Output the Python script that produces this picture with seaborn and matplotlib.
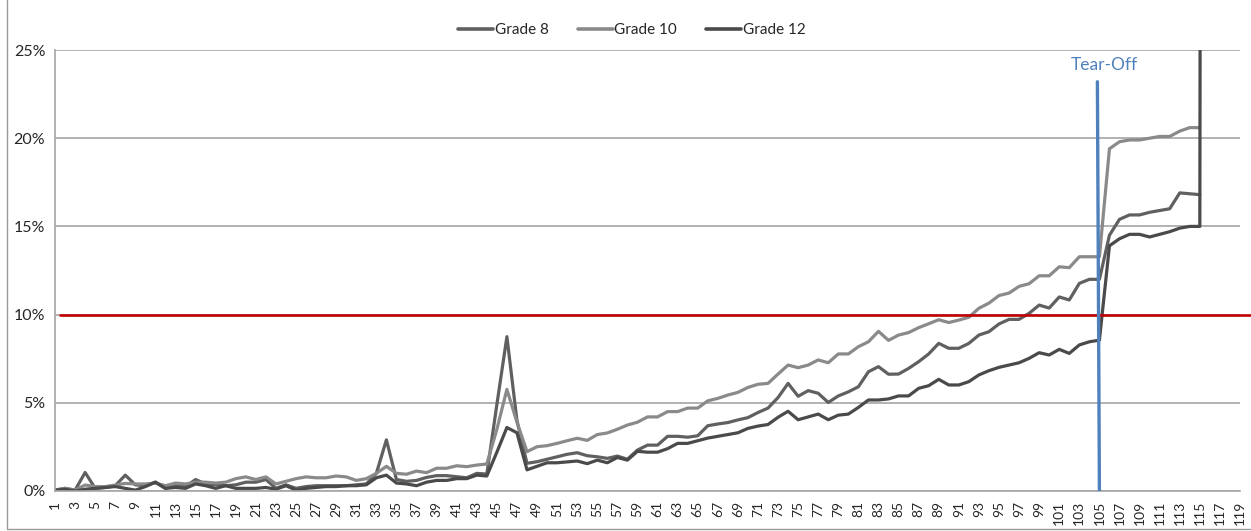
import numpy as np
import pandas as pd
import seaborn as sns
import matplotlib.pyplot as plt
from matplotlib.lines import Line2D

# percent of items, by item position
grade8 = [0.05, 0.15, 0.05, 1.05, 0.15, 0.2, 0.3, 0.9, 0.35, 0.3,
          0.5, 0.15, 0.3, 0.25, 0.65, 0.4, 0.35, 0.3, 0.35, 0.5,
          0.5, 0.65, 0.15, 0.35, 0.15, 0.25, 0.3, 0.3, 0.3, 0.3,
          0.35, 0.4, 1.0, 2.9, 0.65, 0.55, 0.6, 0.77, 0.87, 0.87,
          0.81, 0.75, 1.0, 0.96, 4.9, 8.75, 4.0, 1.57, 1.66, 1.8,
          1.94, 2.08, 2.17, 2.0, 1.94, 1.85, 1.98, 1.8, 2.32, 2.6,
          2.6, 3.1, 3.1, 3.05, 3.13, 3.7, 3.8, 3.88, 4.03, 4.16,
          4.45, 4.7, 5.3, 6.1, 5.37, 5.69, 5.54, 5.02, 5.39, 5.62,
          5.91, 6.76, 7.05, 6.62, 6.63, 6.95, 7.33, 7.77, 8.37, 8.09,
          8.09, 8.37, 8.84, 9.03, 9.47, 9.73, 9.73, 10.07, 10.54, 10.37,
          11.0, 10.83, 11.77, 12.0, 12.0, 14.5, 15.4, 15.65, 15.65, 15.8,
          15.9, 16.0, 16.9, 16.85, 16.8]
grade10 = [0.05, 0.15, 0.05, 0.34, 0.25, 0.25, 0.34, 0.43, 0.4, 0.4,
           0.45, 0.3, 0.45, 0.4, 0.5, 0.5, 0.45, 0.5, 0.7, 0.8,
           0.65, 0.8, 0.4, 0.55, 0.7, 0.8, 0.75, 0.75, 0.85, 0.8,
           0.6, 0.7, 1.0, 1.4, 1.0, 0.95, 1.13, 1.04, 1.29, 1.29,
           1.43, 1.38, 1.47, 1.53, 3.5, 5.76, 3.9, 2.23, 2.51, 2.57,
           2.7, 2.85, 2.99, 2.87, 3.2, 3.29, 3.5, 3.74, 3.9, 4.2,
           4.2, 4.5, 4.5, 4.7, 4.7, 5.11, 5.25, 5.44, 5.59, 5.87,
           6.05, 6.1, 6.63, 7.14, 6.99, 7.14, 7.43, 7.27, 7.77, 7.77,
           8.18, 8.46, 9.05, 8.54, 8.84, 8.98, 9.26, 9.48, 9.71, 9.55,
           9.69, 9.85, 10.36, 10.65, 11.08, 11.22, 11.6, 11.75, 12.2, 12.2,
           12.71, 12.66, 13.28, 13.28, 13.28, 19.4, 19.8, 19.9, 19.9, 20.0,
           20.1, 20.1, 20.4, 20.6, 20.6]
grade12 = [0.05, 0.1, 0.0, 0.1, 0.15, 0.2, 0.25, 0.15, 0.05, 0.25,
           0.5, 0.15, 0.2, 0.15, 0.4, 0.3, 0.15, 0.3, 0.15, 0.15,
           0.15, 0.2, 0.1, 0.3, 0.05, 0.15, 0.2, 0.25, 0.25, 0.3,
           0.3, 0.35, 0.75, 0.9, 0.45, 0.4, 0.3, 0.5, 0.6, 0.6,
           0.7, 0.7, 0.9, 0.85, 2.2, 3.6, 3.3, 1.2, 1.4, 1.6,
           1.6, 1.65, 1.7, 1.55, 1.75, 1.6, 1.9, 1.75, 2.25, 2.2,
           2.2, 2.4, 2.7, 2.7, 2.85, 3.0, 3.1, 3.2, 3.3, 3.55,
           3.68, 3.77, 4.18, 4.52, 4.04, 4.2, 4.36, 4.04, 4.3, 4.36,
           4.74, 5.16, 5.16, 5.22, 5.39, 5.39, 5.82, 5.97, 6.33, 6.01,
           6.01, 6.2, 6.58, 6.82, 7.01, 7.14, 7.27, 7.52, 7.84, 7.71,
           8.03, 7.8, 8.28, 8.46, 8.55, 13.9, 14.3, 14.55, 14.55, 14.4,
           14.55, 14.7, 14.9, 15.0, 15.0, 400.0]

grades = ["Grade 8", "Grade 10", "Grade 12"]
colors = ["#606060", "#8a8a8a", "#4a4a4a"]
threshold = 10
tear_off = 105

frames = []
for name, vals in zip(grades, [grade8, grade10, grade12]):
    frames.append(pd.DataFrame({"item": np.arange(1, len(vals) + 1),
                                "pct": vals, "grade": name}))
df = pd.concat(frames, ignore_index=True)

sns.set_style("white")
plt.rcParams["font.family"] = ["Lato", "DejaVu Sans"]

W, H = 1251, 531
fig = plt.figure(figsize=(W / 100, H / 100), dpi=100)
ax = fig.add_axes([55 / W, 40 / H, (1240 - 55) / W, (491 - 50) / H])

sns.lineplot(data=df, x="item", y="pct", hue="grade", hue_order=grades,
             palette=dict(zip(grades, colors)), linewidth=2.3,
             errorbar=None, legend=False, ax=ax)

grid_c = "#a6a6a6"
ax.set_xlim(1, 119)
ax.set_ylim(0, 25)
ax.set_yticks(range(0, 26, 5))
ax.set_yticklabels([f"{v}%" for v in range(0, 26, 5)], fontsize=11.5)
ax.set_xticks(range(1, 120))
ax.set_xticklabels([str(n) if n % 2 else "" for n in range(1, 120)],
                   rotation=90, fontsize=10)
ax.tick_params(axis="both", length=5, color=grid_c, width=1, pad=2)
ax.set_xlabel("")
ax.set_ylabel("")
ax.yaxis.grid(True, color=grid_c, lw=1.2)
ax.set_axisbelow(True)
for s in ["top", "right"]:
    ax.spines[s].set_visible(False)
for s in ["left", "bottom"]:
    ax.spines[s].set_color(grid_c)
    ax.spines[s].set_linewidth(1.2)

# 10% threshold and tear-off marker
ax.axhline(threshold, xmin=0.004, xmax=1.01, color="#c00000", lw=1.9,
           clip_on=False, zorder=4)
ax.plot([tear_off - 0.2, tear_off], [23.2, 0], color="#4f81bd", lw=2.4,
        zorder=5)
ax.text(tear_off + 0.5, 24.15, "Tear-Off", ha="center", va="center",
        color="#4f81bd", fontsize=12.5)

handles = [Line2D([], [], color=c, lw=2.6) for c in colors]
fig.legend(handles, grades, loc="center", bbox_to_anchor=(0.505, 0.943),
           ncol=3, frameon=False, fontsize=11, handlelength=2.3,
           handletextpad=0.1, columnspacing=1.9)

# chart area border (left and bottom visible)
fig.add_artist(Line2D([7 / W, 7 / W], [2 / H, 1], color="#9a9a9a", lw=1))
fig.add_artist(Line2D([7 / W, 1], [2 / H, 2 / H], color="#9a9a9a", lw=1))

fig.savefig("out.png", dpi=100)
